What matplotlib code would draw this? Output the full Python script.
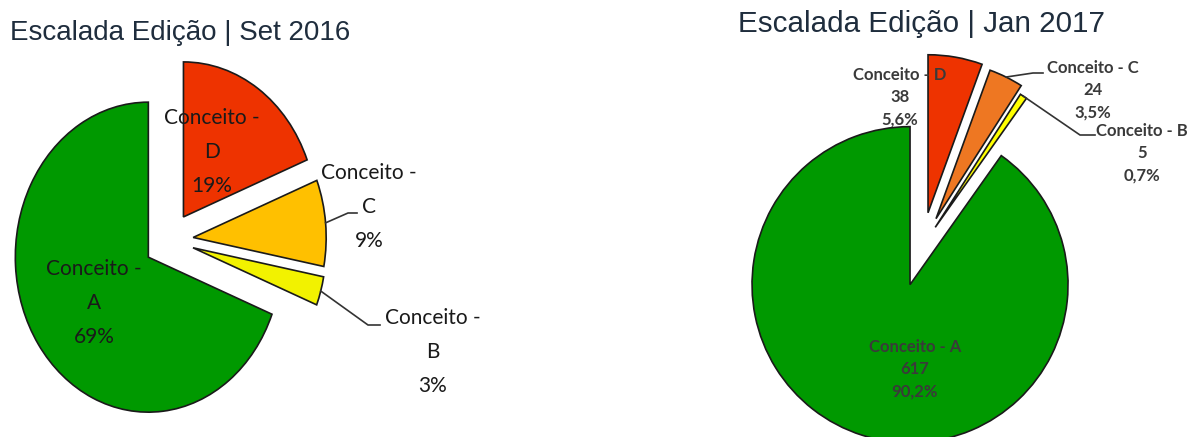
import matplotlib.pyplot as plt

# Set 2016 (percent)
cat_2016 = ['A', 'B', 'C', 'D']
pct_2016 = [69, 3, 9, 19]

# Jan 2017 (counts and percent)
cat_2017 = ['A', 'B', 'C', 'D']
cnt_2017 = [617, 5, 24, 38]
pct_2017 = ['90,2%', '0,7%', '3,5%', '5,6%']

W, H = 1188, 437
fig = plt.figure(figsize=(W / 100, H / 100), dpi=100)

title_color = '#1F2D3D'
label_font = 'Lato'
edge = '#1a1a1a'


def make_axes(cx, cy, rx, ry, left, right, top):
    # axes spanning pixel columns left..right and rows top..H, pie origin at (cx, cy)
    ax = fig.add_axes([left / W, 0, (right - left) / W, (H - top) / H])
    conv = lambda px, py: ((px - cx) / rx, (cy - py) / ry)
    x0, _ = conv(left, 0)
    x1, _ = conv(right, 0)
    _, y0 = conv(0, H)
    _, y1 = conv(0, top)
    return ax, conv, (x0, x1), (y0, y1)


def arc_point(w):
    import numpy as np
    t = np.deg2rad((w.theta1 + w.theta2) / 2)
    return w.center[0] + w.r * np.cos(t), w.center[1] + w.r * np.sin(t)


# ---------- left pie ----------
ax1, c1, xl, yl = make_axes(170, 240, 133, 155, 0, 600, 60)
w1, _ = ax1.pie(pct_2016, startangle=90, counterclock=True,
                colors=['#009900', '#F2F200', '#FFC000', '#EE3300'],
                explode=[0.197, 0.18, 0.175, 0.18],
                wedgeprops=dict(edgecolor=edge, linewidth=1.2))
ax1.set_aspect('auto')
ax1.set_xlim(xl)
ax1.set_ylim(yl)
ax1.axis('off')

pos1 = {'A': (94, 303), 'B': (433, 352), 'C': (369, 207), 'D': (212, 152)}
for name, p, w in zip(cat_2016, pct_2016, w1):
    x, y = c1(*pos1[name])
    ax1.text(x, y, f'Conceito -\n{name}\n{p}%', ha='center', va='center',
             fontsize=15, family=label_font, color='#1a1a1a', linespacing=1.85)

# leader lines
for name, elbow, end in [('C', (348, 213), (357, 213)), ('B', (368, 325), (380, 325))]:
    w = w1[cat_2016.index(name)]
    ax_, ay_ = arc_point(w)
    ex, ey = c1(*elbow)
    fx, fy = c1(*end)
    ax1.plot([ax_, ex, fx], [ay_, ey, fy], color='#333333', lw=1.2, clip_on=False)

fig.text(10 / W, 1 - 40 / H, 'Escalada Edição | Set 2016', fontsize=20,
         family='Liberation Sans', color=title_color, va='baseline')

# ---------- right pie ----------
ax2, c2, xr, yr = make_axes(922, 247, 158, 158, 620, 1188, 60)
w2, _ = ax2.pie(cnt_2017, startangle=90, counterclock=True,
                colors=['#009900', '#FFFF00', '#EE7722', '#EE3300'],
                explode=[0.25, 0.15, 0.2, 0.22],
                wedgeprops=dict(edgecolor=edge, linewidth=1.2))
ax2.set_aspect('auto')
ax2.set_xlim(xr)
ax2.set_ylim(yr)
ax2.axis('off')

pos2 = {'A': (915, 369), 'B': (1142, 153), 'C': (1093, 90), 'D': (900, 97)}
for name, n, p in zip(cat_2017, cnt_2017, pct_2017):
    x, y = c2(*pos2[name])
    ax2.text(x, y, f'Conceito - {name}\n{n}\n{p}', ha='center', va='center',
             fontsize=12, family=label_font, fontweight='bold', color='#3a3a3a',
             linespacing=1.5)

for name, elbow, end in [('C', (1033, 73), (1043, 73)), ('B', (1080, 135), (1095, 135))]:
    w = w2[cat_2017.index(name)]
    ax_, ay_ = arc_point(w)
    ex, ey = c2(*elbow)
    fx, fy = c2(*end)
    ax2.plot([ax_, ex, fx], [ay_, ey, fy], color='#333333', lw=1.2, clip_on=False)

fig.text(738 / W, 1 - 32 / H, 'Escalada Edição | Jan 2017', fontsize=21.3,
         family='Liberation Sans', color=title_color, va='baseline')

fig.savefig('out.png', dpi=100)
